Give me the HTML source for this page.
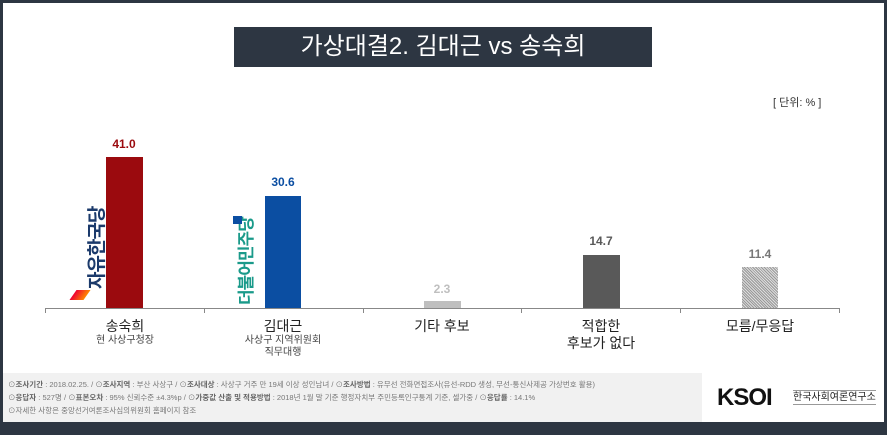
<!DOCTYPE html>
<html><head><meta charset="utf-8"><style>
body{margin:0;width:887px;height:435px;overflow:hidden;background:#2d3642;font-family:"Liberation Sans","Noto Sans CJK KR",sans-serif;}
#c{position:absolute;left:3px;top:3px;width:881px;height:419px;background:#fff;}
.abs{position:absolute;}
.t{position:absolute;left:231px;top:24px;width:418px;height:40px;background:#2d3642;color:#fff;font-size:24px;line-height:40px;text-align:center;}
.bar{position:absolute;}
.v{position:absolute;width:80px;text-align:center;font-weight:bold;font-size:12px;}
.lab{position:absolute;width:150px;text-align:center;font-size:14px;color:#222;line-height:17px;}
.lab small{display:block;font-size:10px;color:#444;line-height:12px;}
.tick{position:absolute;top:306px;width:1px;height:4px;background:#888;}
.foot{position:absolute;left:0;top:370px;width:699px;height:49px;background:#f1f1f1;font-size:7.5px;color:#777;line-height:13px;padding:5px 0 0 5px;box-sizing:border-box;white-space:nowrap;}
.foot b{color:#666;}
.rot{position:absolute;transform:rotate(-90deg);transform-origin:0 0;white-space:nowrap;font-weight:bold;letter-spacing:-1px;}
</style></head><body><div id="c">
<div class="t">가상대결2. 김대근 vs 송숙희</div>
<div class="abs" style="left:770px;top:91px;font-size:11px;color:#333;">[ 단위: % ]</div>
<div class="abs" style="left:42px;top:305px;width:795px;height:1px;background:#888;"></div>
<div class="tick" style="left:42px"></div><div class="tick" style="left:201px"></div><div class="tick" style="left:360px"></div><div class="tick" style="left:518px"></div><div class="tick" style="left:677px"></div><div class="tick" style="left:836px"></div>

<div class="bar" style="left:103px;top:154px;width:37px;height:151px;background:#9b0a0e"></div>
<div class="v" style="left:81px;top:134px;color:#9b0a0e">41.0</div>
<div class="bar" style="left:262px;top:193px;width:36px;height:112px;background:#0b4ea2"></div>
<div class="v" style="left:240px;top:172px;color:#0b4ea2">30.6</div>
<div class="bar" style="left:421px;top:298px;width:37px;height:7px;background:#bfbfbf"></div>
<div class="v" style="left:399px;top:279px;color:#bfbfbf">2.3</div>
<div class="bar" style="left:580px;top:252px;width:37px;height:53px;background:#595959"></div>
<div class="v" style="left:558px;top:231px;color:#595959">14.7</div>
<div class="bar" style="left:739px;top:264px;width:36px;height:41px;background:repeating-linear-gradient(45deg,#999 0 1px,#ddd 1px 2px)"></div>
<div class="v" style="left:717px;top:244px;color:#777">11.4</div>

<div class="rot" style="left:79px;top:286px;font-size:19px;color:#1b3a6b;">자유한국당</div>
<div class="abs" style="left:70px;top:287px;width:14px;height:10px;background:linear-gradient(90deg,#e03,#f80);transform:skewX(-35deg);"></div>
<div class="rot" style="left:229px;top:302px;font-size:17px;color:#1a9a8a;">더불어민주당</div>
<div class="abs" style="left:230px;top:213px;width:9px;height:8px;background:#0b4ea2;"></div>

<div class="lab" style="left:47px;top:315px">송숙희<small>현 사상구청장</small></div>
<div class="lab" style="left:205px;top:315px">김대근<small>사상구 지역위원회<br>직무대행</small></div>
<div class="lab" style="left:364px;top:315px">기타 후보</div>
<div class="lab" style="left:523px;top:315px">적합한<br>후보가 없다</div>
<div class="lab" style="left:682px;top:315px">모름/무응답</div>

<div class="foot">⊙<b>조사기간</b> : 2018.02.25. / ⊙<b>조사지역</b> : 부산 사상구 / ⊙<b>조사대상</b> : 사상구 거주 만 19세 이상 성인남녀 / ⊙<b>조사방법</b> : 유무선 전화면접조사(유선-RDD 생성, 무선-통신사제공 가상번호 활용)<br>⊙<b>응답자</b> : 527명 / ⊙<b>표본오차</b> : 95% 신뢰수준 ±4.3%p / ⊙<b>가중값 산출 및 적용방법</b> : 2018년 1월 말 기준 행정자치부 주민등록인구통계 기준, 셀가중 / ⊙<b>응답률</b> : 14.1%<br>⊙자세한 사항은 중앙선거여론조사심의위원회 홈페이지 참조</div>
<div class="abs" style="left:714px;top:382px;font-size:24px;line-height:26px;font-weight:bold;color:#111;letter-spacing:-1px;">KSOI</div>
<div class="abs" style="left:790px;top:387px;font-size:10px;line-height:13px;color:#222;border-top:1px solid #999;border-bottom:1px solid #999;">한국사회여론연구소</div>
</div></body></html>
